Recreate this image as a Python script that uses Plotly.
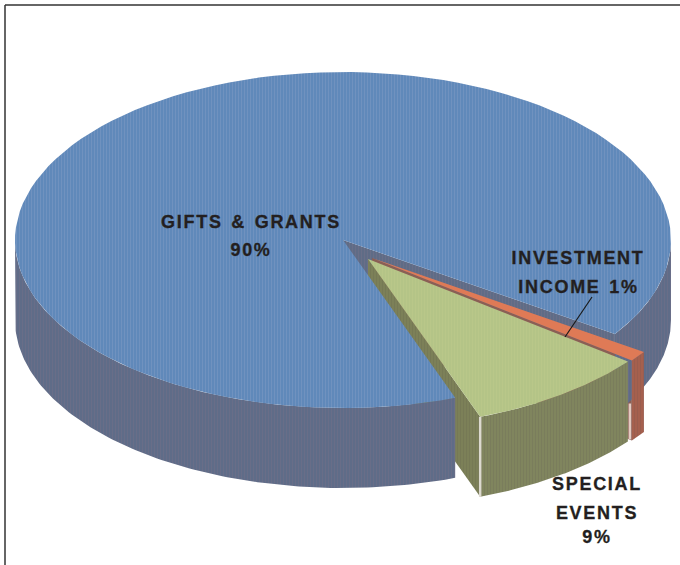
import numpy as np
import plotly.graph_objects as go

# Share of income
categories = ["GIFTS & GRANTS", "SPECIAL EVENTS", "INVESTMENT INCOME"]
shares = [90, 9, 1]

# Label lines
gifts_lines = ["GIFTS & GRANTS", "90%"]
invest_lines = ["INVESTMENT", "INCOME 1%"]
special_lines = ["SPECIAL", "EVENTS", "9%"]

# Fake 3D geometry, in page pixels
RX, RY = 328, 168
DEPTH = 80
START_ANGLE = 70  # where the blue slice starts, going clockwise on screen
CENTERS = {
    "GIFTS & GRANTS": (343, 240),
    "SPECIAL EVENTS": (368, 259),
    "INVESTMENT INCOME": (372, 258),
}

# Browser default margin off, and the label tracking of the original
POST_SCRIPT = """
document.body.style.margin = '0';
document.querySelectorAll('.annotation-text').forEach(function (t) {
    t.style.letterSpacing = '1.7px';
    t.style.wordSpacing = '2px';
    t.style.stroke = '#231f20';
    t.style.strokeWidth = '0.3px';
});
"""


def arc(center, t0, t1, n=120):
    t = np.radians(np.linspace(t0, t1, n))
    return center[0] + RX * np.cos(t), center[1] + RY * np.sin(t)


def add_shape(fig, x, y, fill, stripe=None, solidity=0.35, size=3):
    # one filled polygon, optionally with a stripe pattern to fake the print dither
    pattern = None
    if stripe:
        pattern = dict(shape="|", fgcolor=stripe, bgcolor=fill, size=size, solidity=solidity)
    fig.add_trace(go.Scatter(
        x=list(x) + [x[0]], y=list(y) + [y[0]], mode="lines", fill="toself",
        fillcolor=fill, fillpattern=pattern, line=dict(width=0), hoverinfo="skip", showlegend=False,
    ))


def wedge(center, t0, t1):
    ax, ay = arc(center, t0, t1)
    return np.r_[center[0], ax], np.r_[center[1], ay]


def wall(center, t0, t1):
    ax, ay = arc(center, t0, t1)
    return np.r_[ax, ax[::-1]], np.r_[ay, ay[::-1] + DEPTH]


def cut_face(center, t):
    ax, ay = arc(center, t, t, 1)
    return ([center[0], ax[0], ax[0], center[0]],
            [center[1], ay[0], ay[0] + DEPTH, center[1] + DEPTH])


def main():
    degs = [s * 3.6 for s in shares]
    c_blue = CENTERS[categories[0]]
    c_green = CENTERS[categories[1]]
    c_orange = CENTERS[categories[2]]

    blue_start = START_ANGLE
    blue_end = blue_start + degs[0]  # wraps round to just under 36 + 360
    green_t0, green_t1 = blue_end - 360 + degs[2], blue_start
    orange_t0, orange_t1 = blue_end - 360, blue_end - 360 + degs[2]

    fig = go.Figure()

    # Cut faces behind the blue top
    add_shape(fig, *cut_face(c_blue, blue_end), "#5f6c86", "#75718a")
    add_shape(fig, *cut_face(c_orange, orange_t1), "#8a5f55")
    add_shape(fig, *cut_face(c_green, green_t1), "#7c8058", "#6f7252")

    # Blue side wall, front half only
    add_shape(fig, *wall(c_blue, blue_start, 180), "#5f6c88", "#746f88")
    add_shape(fig, *wall(c_blue, 0, blue_end - 360), "#5f6c88", "#746f88")

    # Blue top
    add_shape(fig, *wedge(c_blue, blue_start, blue_end), "#6089ba", "#7f9cc4")

    # Orange slice
    add_shape(fig, *wall(c_orange, orange_t0, orange_t1), "#a5604e", "#8f5a4e")
    add_shape(fig, *wedge(c_orange, orange_t0, orange_t1), "#df7a56")

    # Green slice
    add_shape(fig, *wall(c_green, green_t0, green_t1), "#80855e", "#73755a")
    add_shape(fig, *wedge(c_green, green_t0, green_t1), "#b4c487", "#bfcb8c", 0.3)

    # Pale highlights on the wall corners
    cx, cy = arc(c_green, green_t1, green_t1, 1)
    fig.add_trace(go.Scatter(x=[cx[0], cx[0]], y=[cy[0], cy[0] + DEPTH], mode="lines",
                             line=dict(color="#dcd9cf", width=2.5), hoverinfo="skip", showlegend=False))
    cx, cy = arc(c_green, green_t0, green_t0, 1)
    fig.add_trace(go.Scatter(x=[cx[0] + 2, cx[0] + 2], y=[cy[0] + 42, cy[0] + DEPTH - 2], mode="lines",
                             line=dict(color="#e3c9c0", width=2.5), hoverinfo="skip", showlegend=False))

    # Leader for the investment label
    fig.add_shape(type="line", x0=592, y0=297, x1=565, y1=337, line=dict(color="#1a1a1a", width=1.2))

    # Picture frame, top and left only
    fig.add_shape(type="line", x0=5, y0=5, x1=680, y1=5, line=dict(color="#333333", width=1.5))
    fig.add_shape(type="line", x0=5, y0=5, x1=5, y1=565, line=dict(color="#333333", width=1.5))

    font = dict(family="Liberation Sans", size=18, color="#231f20", weight="bold")
    label_spots = [
        (gifts_lines, 251, [222, 250]),
        (invest_lines, 578, [258, 287]),
        (special_lines, 597, [484, 513, 537]),
    ]
    for lines, x, ys in label_spots:
        for text, y in zip(lines, ys):
            fig.add_annotation(x=x, y=y, text=text, showarrow=False, font=font,
                               xanchor="center", yanchor="middle")

    fig.update_layout(
        width=680, height=565, margin=dict(l=0, r=0, t=0, b=0),
        paper_bgcolor="white", plot_bgcolor="white", showlegend=False,
        xaxis=dict(range=[0, 680], visible=False, fixedrange=True),
        yaxis=dict(range=[565, 0], visible=False, fixedrange=True),
    )
    fig.write_html("out.html", config=dict(displayModeBar=False), post_script=POST_SCRIPT)


if __name__ == "__main__":

    main()
